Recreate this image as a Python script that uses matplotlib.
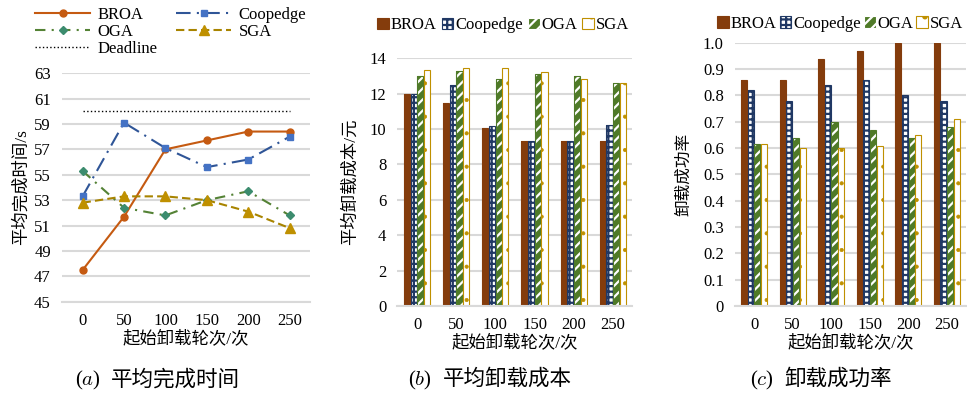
import matplotlib
matplotlib.use('Agg')
import matplotlib.pyplot as plt
import numpy as np

plt.rcParams['font.family'] = ['Liberation Serif', 'Noto Sans CJK SC']
plt.rcParams['mathtext.fontset'] = 'cm'
plt.rcParams['hatch.linewidth'] = 1.6

rounds = ['0', '50', '100', '150', '200', '250']
methods = ['BROA', 'Coopedge', 'OGA', 'SGA']

# (a) average completion time / s
time_broa = [47.5, 51.7, 57.0, 57.7, 58.4, 58.4]
time_coop = [53.3, 59.1, 57.1, 55.6, 56.2, 58.0]
time_oga = [55.3, 52.4, 51.8, 53.0, 53.7, 51.8]
time_sga = [52.8, 53.3, 53.3, 53.0, 52.1, 50.8]
deadline = [60, 60, 60, 60, 60, 60]

# (b) average offloading cost / yuan
cost_broa = [12.0, 11.45, 10.05, 9.3, 9.3, 9.3]
cost_coop = [12.0, 12.5, 10.15, 9.3, 9.3, 10.25]
cost_oga = [13.0, 13.25, 12.8, 13.1, 13.0, 12.6]
cost_sga = [13.35, 13.45, 13.45, 13.2, 12.85, 12.6]

# (c) offloading success rate
succ_broa = [0.86, 0.86, 0.94, 0.97, 1.0, 1.0]
succ_coop = [0.82, 0.78, 0.84, 0.86, 0.80, 0.78]
succ_oga = [0.615, 0.64, 0.70, 0.67, 0.64, 0.68]
succ_sga = [0.615, 0.60, 0.60, 0.61, 0.65, 0.71]

grid_c = '#d9d9d9'
# (face, hatch colour, hatch, outline, hatch lw)
bar_styles = [
    ('#843c0c', None, None, '#843c0c', 1.0),
    ('white', '#203864', '+++', '#203864', 1.6),
    ('#4f7a28', 'white', '///', '#4f7a28', 1.6),
    ('white', '#bf9000', '.', '#bf9000', 0.5),
]

fig = plt.figure(figsize=(9.67, 3.93), dpi=100)
x = np.arange(len(rounds))


def style_axes(ax):
    for s in ['top', 'right', 'left']:
        ax.spines[s].set_visible(False)
    ax.spines['bottom'].set_color(grid_c)
    ax.spines['bottom'].set_linewidth(1.5)
    ax.yaxis.grid(True, color=grid_c, lw=1.5)
    ax.set_axisbelow(True)
    ax.tick_params(length=0, labelsize=12, pad=8)
    ax.set_xticks(x)
    ax.set_xticklabels(rounds)
    ax.set_xlim(-0.5, 5.5)
    ax.set_xlabel('起始卸载轮次/次', fontsize=12.5, labelpad=1)


def caption(xr, letter, text):
    fig.text(xr, 0.02, '($%s$)' % letter, ha='right', fontsize=15)
    fig.text(xr + 0.011, 0.02, text, ha='left', fontsize=15.5)


# (a)
ax1 = fig.add_axes([0.064, 0.232, 0.257, 0.582])
style_axes(ax1)
l_broa, = ax1.plot(x, time_broa, color='#c55a11', lw=1.5, marker='o', ms=5, label='BROA')
l_coop, = ax1.plot(x, time_coop, color='#2f5597', lw=1.5, ls=(0, (7, 3, 1, 3)), marker='s', ms=5,
                   mfc='#4472c4', mec='#4472c4', label='Coopedge')
l_oga, = ax1.plot(x, time_oga, color='#548235', lw=1.5, ls=(0, (5, 3, 1, 3)), marker='D', ms=4.5,
                  mfc='#3c8c6e', mec='#3c8c6e', label='OGA')
l_sga, = ax1.plot(x, time_sga, color='#a88400', lw=1.5, ls=(0, (4, 2)), marker='^', ms=7,
                  mfc='#bf9000', mec='#bf9000', label='SGA')
l_dl, = ax1.plot(x, deadline, color='black', lw=1.0, ls=':', label='Deadline')
ax1.set_ylim(45, 63)
ax1.set_yticks(np.arange(45, 64, 2))
ax1.set_ylabel('平均完成时间/s', fontsize=12.5, labelpad=3)
hs = [l_broa, l_oga, l_dl, l_coop, l_sga]
fig.legend(hs, [h.get_label() for h in hs], loc='upper left', bbox_to_anchor=(0.021, 1.02),
           ncol=2, frameon=False, fontsize=12, handlelength=3.3, columnspacing=1.1,
           labelspacing=0.05, handletextpad=0.45)
caption(0.104, 'a', '平均完成时间')


def bar_panel(ax, series):
    w = 0.17
    for i, (vals, st) in enumerate(zip(series, bar_styles)):
        face, hc, hatch, edge, hlw = st
        pos = x + (i - 1.5) * w
        with plt.rc_context({'hatch.linewidth': hlw}):
            ax.bar(pos, vals, w * 0.92, color=face, lw=0)
            if hatch:
                ax.bar(pos, vals, w * 0.92, facecolor='none', edgecolor=hc, hatch=hatch, lw=0)
            ax.bar(pos, vals, w * 0.92, facecolor='none', edgecolor=edge, lw=0.8)
            # legend proxy
            ax.bar([0], [0], 0, facecolor=face, edgecolor=hc if hatch else edge, hatch=hatch,
                   lw=0.8, label=methods[i])


# (b)
ax2 = fig.add_axes([0.411, 0.221, 0.243, 0.631])
style_axes(ax2)
bar_panel(ax2, [cost_broa, cost_coop, cost_oga, cost_sga])
ax2.set_ylim(0, 14)
ax2.set_yticks(np.arange(0, 15, 2))
ax2.set_ylabel('平均卸载成本/元', fontsize=12.5, labelpad=8)
ax2.legend(loc='lower center', bbox_to_anchor=(0.45, 1.04), ncol=4, frameon=False, fontsize=12,
           handlelength=0.7, handleheight=0.7, handletextpad=0.12, columnspacing=0.3)
caption(0.447, 'b', '平均卸载成本')

# (c)
ax3 = fig.add_axes([0.760, 0.221, 0.239, 0.670])
style_axes(ax3)
bar_panel(ax3, [succ_broa, succ_coop, succ_oga, succ_sga])
ax3.set_ylim(0, 1.0)
ax3.set_yticks(np.arange(0, 1.01, 0.1))
ax3.set_yticklabels(['0'] + ['%.1f' % v for v in np.arange(0.1, 1.01, 0.1)])
ax3.set_ylabel('卸载成功率', fontsize=12, labelpad=8)
ax3.legend(loc='lower center', bbox_to_anchor=(0.455, 0.985), ncol=4, frameon=False, fontsize=12,
           handlelength=0.7, handleheight=0.7, handletextpad=0.1, columnspacing=0.2)
caption(0.8, 'c', '卸载成功率')

fig.savefig('out.png', dpi=100)
